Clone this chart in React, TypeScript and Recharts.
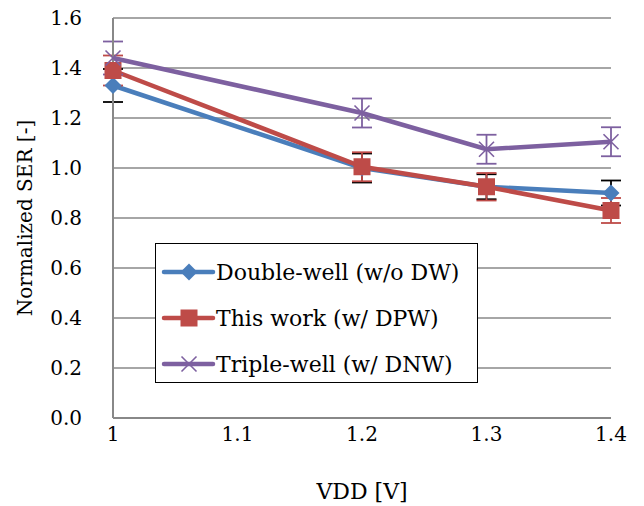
import React from 'react';
import { LineChart, Line, XAxis, YAxis, CartesianGrid, ErrorBar, Legend, Label } from 'recharts';

const vdd = [1, 1.2, 1.3, 1.4];
const doubleWell = [1.33, 1.0, 0.925, 0.9];
const doubleWellErr = [0.066, 0.058, 0.05, 0.05];
const thisWork = [1.39, 1.005, 0.925, 0.83];
const thisWorkErr = [0.06, 0.058, 0.055, 0.05];
const tripleWell = [1.44, 1.22, 1.075, 1.105];
const tripleWellErr = [0.066, 0.058, 0.058, 0.058];
const xTicks = [1, 1.1, 1.2, 1.3, 1.4];
const yTicks = [0, 0.2, 0.4, 0.6, 0.8, 1.0, 1.2, 1.4, 1.6];

const BLUE = '#4a7ebb';
const RED = '#be4b48';
const PURPLE = '#7d60a0';
const FONT = "'DejaVu Serif', serif";

const data = vdd.map((v, i) => ({
  vdd: v,
  dw: doubleWell[i],
  dwErr: doubleWellErr[i],
  tw: thisWork[i],
  twErr: thisWorkErr[i],
  tr: tripleWell[i],
  trErr: tripleWellErr[i],
}));

const series = [
  { key: 'dw', name: 'Double-well (w/o DW)', color: BLUE, marker: 'diamond' },
  { key: 'tw', name: 'This work (w/ DPW)', color: RED, marker: 'square' },
  { key: 'tr', name: 'Triple-well (w/ DNW)', color: PURPLE, marker: 'x' },
];

const Marker = ({ type, cx, cy, color }: { type: string; cx: number; cy: number; color: string }) => {
  if (type === 'diamond') {
    const r = 8.5;
    return <polygon points={`${cx},${cy - r} ${cx + r},${cy} ${cx},${cy + r} ${cx - r},${cy}`} fill={color} />;
  }
  if (type === 'square') {
    const s = 8.5;
    return <rect x={cx - s} y={cy - s} width={s * 2} height={s * 2} fill={color} />;
  }
  const r = 7.5;
  return (
    <g stroke={color} strokeWidth={1.6}>
      <line x1={cx - r} y1={cy - r} x2={cx + r} y2={cy + r} />
      <line x1={cx - r} y1={cy + r} x2={cx + r} y2={cy - r} />
    </g>
  );
};

const makeDot = (type: string, color: string) => (props: any) => {
  const { cx, cy, index } = props;
  if (cx == null || cy == null) return <g key={`d-${type}-${index}`} />;
  return <Marker key={`d-${type}-${index}`} type={type} cx={cx} cy={cy} color={color} />;
};

const LegendBox = () => (
  <div
    style={{
      border: '1.5px solid #000',
      background: '#fff',
      width: 323,
      height: 140,
      boxSizing: 'border-box',
      paddingTop: 5,
      fontFamily: FONT,
      fontSize: 22,
      color: '#000',
    }}
  >
    {series.map((s) => (
      <div key={s.key} style={{ display: 'flex', alignItems: 'center', height: 46 }}>
        <svg width={60} height={24} style={{ flex: 'none' }}>
          <line x1={8} y1={12} x2={57} y2={12} stroke={s.color} strokeWidth={4.5} strokeLinecap="round" />
          <Marker type={s.marker} cx={33} cy={12} color={s.color} />
        </svg>
        <span style={{ whiteSpace: 'nowrap' }}>{s.name}</span>
      </div>
    ))}
  </div>
);

export default function App() {
  return (
    <div style={{ position: 'absolute', left: 0, top: 0, background: '#fff' }}>
      <LineChart width={644} height={506} data={data} margin={{ top: 18, right: 33, left: 0, bottom: 0 }}>
        <CartesianGrid vertical={false} stroke="#888" strokeWidth={1.5} />
        <XAxis
          dataKey="vdd"
          type="number"
          domain={[1, 1.4]}
          ticks={xTicks}
          height={88}
          axisLine={{ stroke: '#888', strokeWidth: 2 }}
          tickLine={false}
          tickSize={0}
          tickMargin={9}
          tick={{ fill: '#000', fontSize: 20, fontFamily: FONT }}
          tickFormatter={(v: number) => String(Math.round(v * 10) / 10)}
        >
          <Label value="VDD [V]" position="insideBottom" offset={7} fill="#000" fontSize={22} fontFamily={FONT} />
        </XAxis>
        <YAxis
          type="number"
          domain={[0, 1.6]}
          ticks={yTicks}
          width={113}
          axisLine={{ stroke: '#888', strokeWidth: 2 }}
          tickLine={false}
          tickSize={0}
          tickMargin={31}
          tick={{ fill: '#000', fontSize: 20, fontFamily: FONT }}
          tickFormatter={(v: number) => v.toFixed(1)}
        >
          <Label
            content={({ viewBox }: any) => {
              const cx = 25;
              const cy = viewBox.y + viewBox.height / 2;
              return (
                <text
                  x={cx}
                  y={cy}
                  transform={`rotate(-90, ${cx}, ${cy})`}
                  textAnchor="middle"
                  dominantBaseline="central"
                  fill="#000"
                  fontSize={20}
                  fontFamily={FONT}
                >
                  Normalized SER [-]
                </text>
              );
            }}
          />
        </YAxis>
        <Legend
          layout="vertical"
          align="center"
          verticalAlign="middle"
          content={() => <LegendBox />}
          wrapperStyle={{ position: 'absolute', left: 155, top: 243, width: 'auto', height: 'auto' }}
        />
        <Line
          dataKey="dw"
          name="Double-well (w/o DW)"
          stroke={BLUE}
          strokeWidth={4.5}
          dot={makeDot('diamond', BLUE)}
          isAnimationActive={false}
        >
          <ErrorBar dataKey="dwErr" direction="y" width={10} stroke="#000" strokeWidth={1.8} />
        </Line>
        <Line
          dataKey="tw"
          name="This work (w/ DPW)"
          stroke={RED}
          strokeWidth={4.5}
          dot={makeDot('square', RED)}
          isAnimationActive={false}
        >
          <ErrorBar dataKey="twErr" direction="y" width={10} stroke={RED} strokeWidth={1.8} />
        </Line>
        <Line
          dataKey="tr"
          name="Triple-well (w/ DNW)"
          stroke={PURPLE}
          strokeWidth={4.5}
          dot={makeDot('x', PURPLE)}
          isAnimationActive={false}
        >
          <ErrorBar dataKey="trErr" direction="y" width={10} stroke={PURPLE} strokeWidth={1.8} />
        </Line>
      </LineChart>
    </div>
  );
}
